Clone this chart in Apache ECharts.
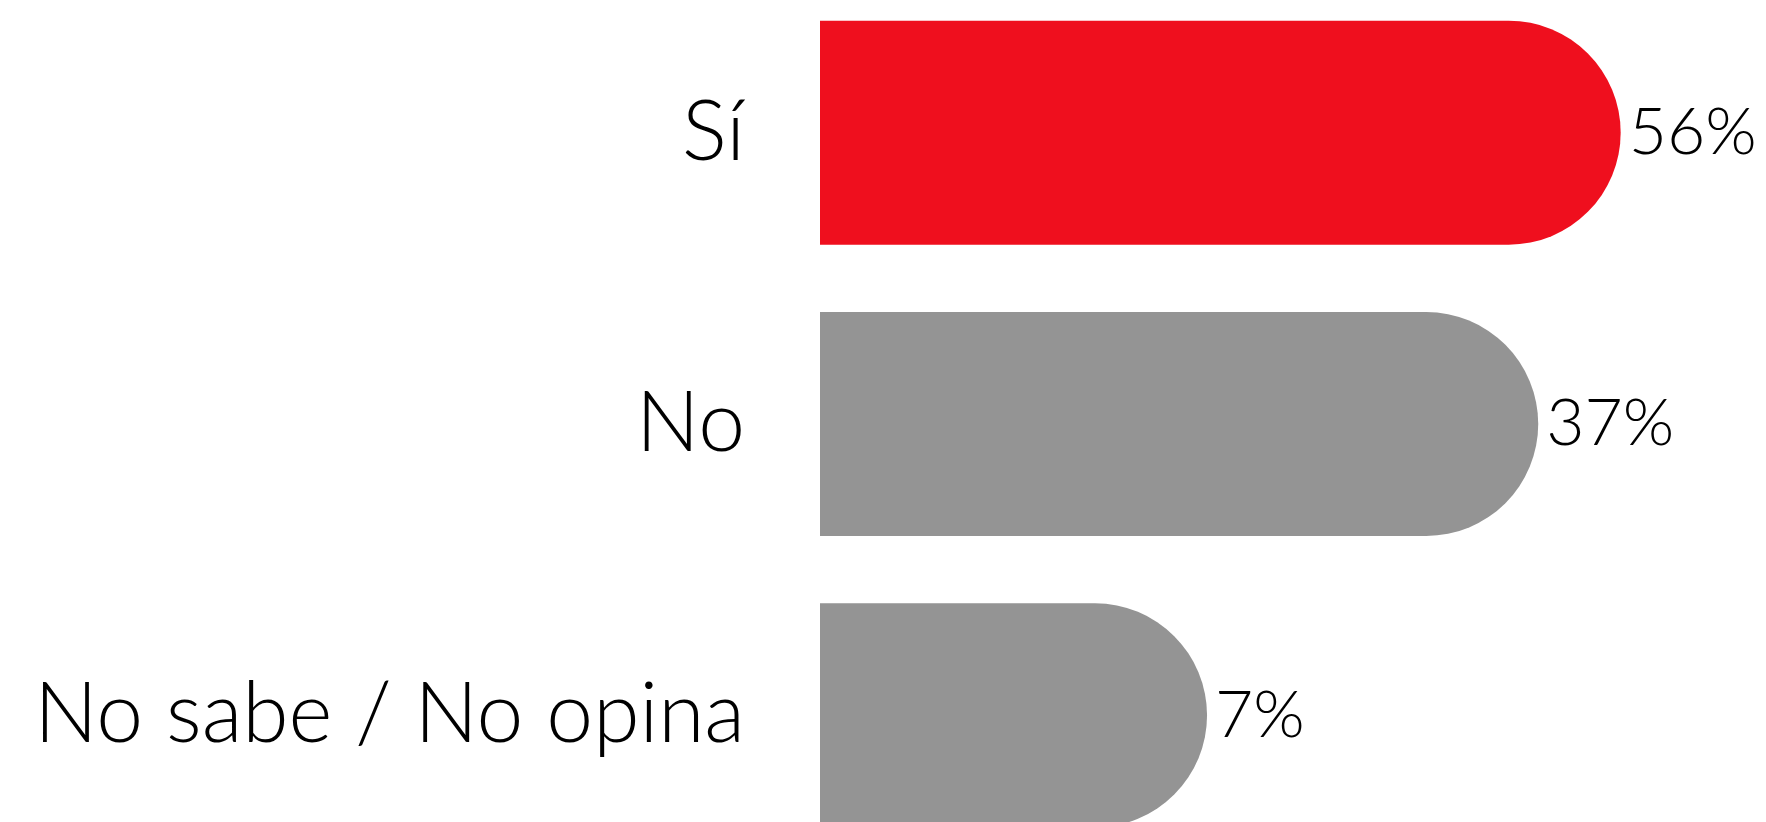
<!DOCTYPE html>
<html>
<head>
<meta charset="utf-8">
<script src="https://cdn.jsdelivr.net/npm/echarts@6/dist/echarts.min.js"></script>
<style>
  html, body { margin: 0; padding: 0; background: #fff; }
  #chart { width: 1766px; height: 822px; }
</style>
</head>
<body>
<div id="chart"></div>
<script>
// answers and their shares (%)
const categories = ['Sí', 'No', 'No sabe / No opina'];
const values = [56, 37, 7];

const RED = '#EF0F1E';
const GREY = '#949494';
const FONT = 'Lato, "Noto Sans", sans-serif';

const chart = echarts.init(document.getElementById('chart'));

chart.setOption({
  animation: false,
  // bars run past the bottom edge like in the original crop
  grid: {
    left: 820, right: 30, top: -13, bottom: -39,
    containLabel: false,
    outerBoundsMode: 'none'
  },
  xAxis: {
    type: 'log',
    logBase: 10,
    min: 1,
    max: 100,
    show: false
  },
  yAxis: {
    type: 'category',
    data: categories,
    inverse: true,
    axisLine: { show: false },
    axisTick: { show: false },
    splitLine: { show: false },
    axisLabel: {
      margin: 75,
      color: '#000',
      fontFamily: FONT,
      fontSize: 84,
      fontWeight: 300
    }
  },
  series: [{
    type: 'bar',
    data: values,
    barWidth: 224,
    itemStyle: {
      color: (p) => (p.dataIndex === 0 ? RED : GREY),
      borderRadius: [0, 112, 112, 0]
    },
    label: {
      show: true,
      position: 'right',
      distance: 8,
      formatter: '{c}%',
      color: '#000',
      fontFamily: FONT,
      fontSize: 66,
      fontWeight: 300
    }
  }]
});
</script>
</body>
</html>
